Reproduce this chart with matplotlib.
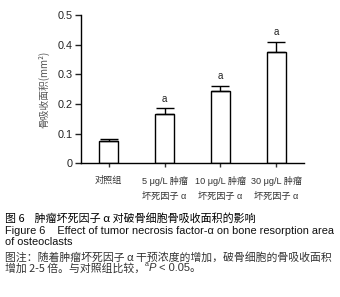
import matplotlib
matplotlib.use("Agg")
import matplotlib.pyplot as plt

plt.rcParams['font.family'] = ['Liberation Sans', 'Noto Sans CJK SC', 'DejaVu Sans']

categories = ["对照组", "5 μg/L 肿瘤\n坏死因子 α", "10 μg/L 肿瘤\n坏死因子 α", "30 μg/L 肿瘤\n坏死因子 α"]
means = [0.074, 0.165, 0.243, 0.374]
errors = [0.009, 0.020, 0.018, 0.034]
sig = ["", "a", "a", "a"]
yticks = [0, 0.1, 0.2, 0.3, 0.4, 0.5]
ytick_labels = ["0", "0.1", "0.2", "0.3", "0.4", "0.5"]

CJK = ['Noto Sans CJK SC', 'Liberation Sans', 'DejaVu Sans']

fig = plt.figure(figsize=(3.4, 2.97), dpi=100)
ax = fig.add_axes([0.238, 0.450, 0.656, 0.4995])

x = list(range(len(categories)))
ax.bar(x, means, width=0.34, color='white', edgecolor='black', linewidth=1.0, zorder=2)
ax.errorbar(x, means, yerr=[[0]*len(errors), errors], fmt='none', ecolor='black',
            elinewidth=1.0, capsize=6.8, capthick=1.0, zorder=3)
for xi, m, e, s in zip(x, means, errors, sig):
    if s:
        ax.annotate(s, (xi, m + e), xytext=(0, 3.5), textcoords='offset points',
                    ha='center', va='bottom', fontsize=7, color='#222222')

ax.set_xlim(-0.5, 3.5)
ax.set_ylim(0, 0.5)
ax.set_yticks(yticks)
ax.set_yticklabels(ytick_labels)
ax.set_xticks(x)
ax.set_xticklabels(categories, linespacing=1.9)
for sp in ['top', 'right']:
    ax.spines[sp].set_visible(False)
for sp in ['left', 'bottom']:
    ax.spines[sp].set_linewidth(1.0)
ax.tick_params(axis='y', length=4, width=1.0, labelsize=7.8, pad=2, colors='#222222')
ax.tick_params(axis='x', length=3, width=1.0, labelsize=6.6, pad=6, colors='#333333')
ax.set_ylabel("骨吸收面积(mm²)", fontsize=7.0, color='#555555', labelpad=6, family=CJK)

fig.text(0.015, 1 - 219/297, "图 6    肿瘤坏死因子 α 对破骨细胞骨吸收面积的影响", fontsize=7.9,
         va='center', ha='left', family=CJK, color='#000000')
fig.text(0.015, 1 - 231/297, "Figure 6    Effect of tumor necrosis factor-α on bone resorption area",
         fontsize=7.9, va='center', ha='left', color='#111111')
fig.text(0.015, 1 - 242/297, "of osteoclasts", fontsize=7.9, va='center', ha='left', color='#111111')
fig.text(0.015, 1 - 257/297, "图注：随着肿瘤坏死因子 α 干预浓度的增加，破骨细胞的骨吸收面积",
         fontsize=7.8, va='center', ha='left', family=CJK, color='#333333')

t1 = fig.text(0.015, 1 - 268/297, "增加 2-5 倍。与对照组比较，", fontsize=7.8, va='center', ha='left',
              family=CJK, color='#333333')
fig.canvas.draw()
r = fig.canvas.get_renderer()
bb = t1.get_window_extent(r)
x2 = bb.x1 / fig.bbox.width
t2 = fig.text(x2, 1 - 265/297, "a", fontsize=5, va='center', ha='left', color='#333333')
bb2 = t2.get_window_extent(r)
x3 = bb2.x1 / fig.bbox.width
t3 = fig.text(x3, 1 - 268/297, "P", fontsize=8, va='center', ha='left', style='italic', color='#333333')
bb3 = t3.get_window_extent(r)
fig.text(bb3.x1 / fig.bbox.width, 1 - 268/297, " < 0.05。", fontsize=8, va='center', ha='left',
         family=['Liberation Sans', 'Noto Sans CJK SC'], color='#333333')

fig.savefig("out.png", dpi=100)
